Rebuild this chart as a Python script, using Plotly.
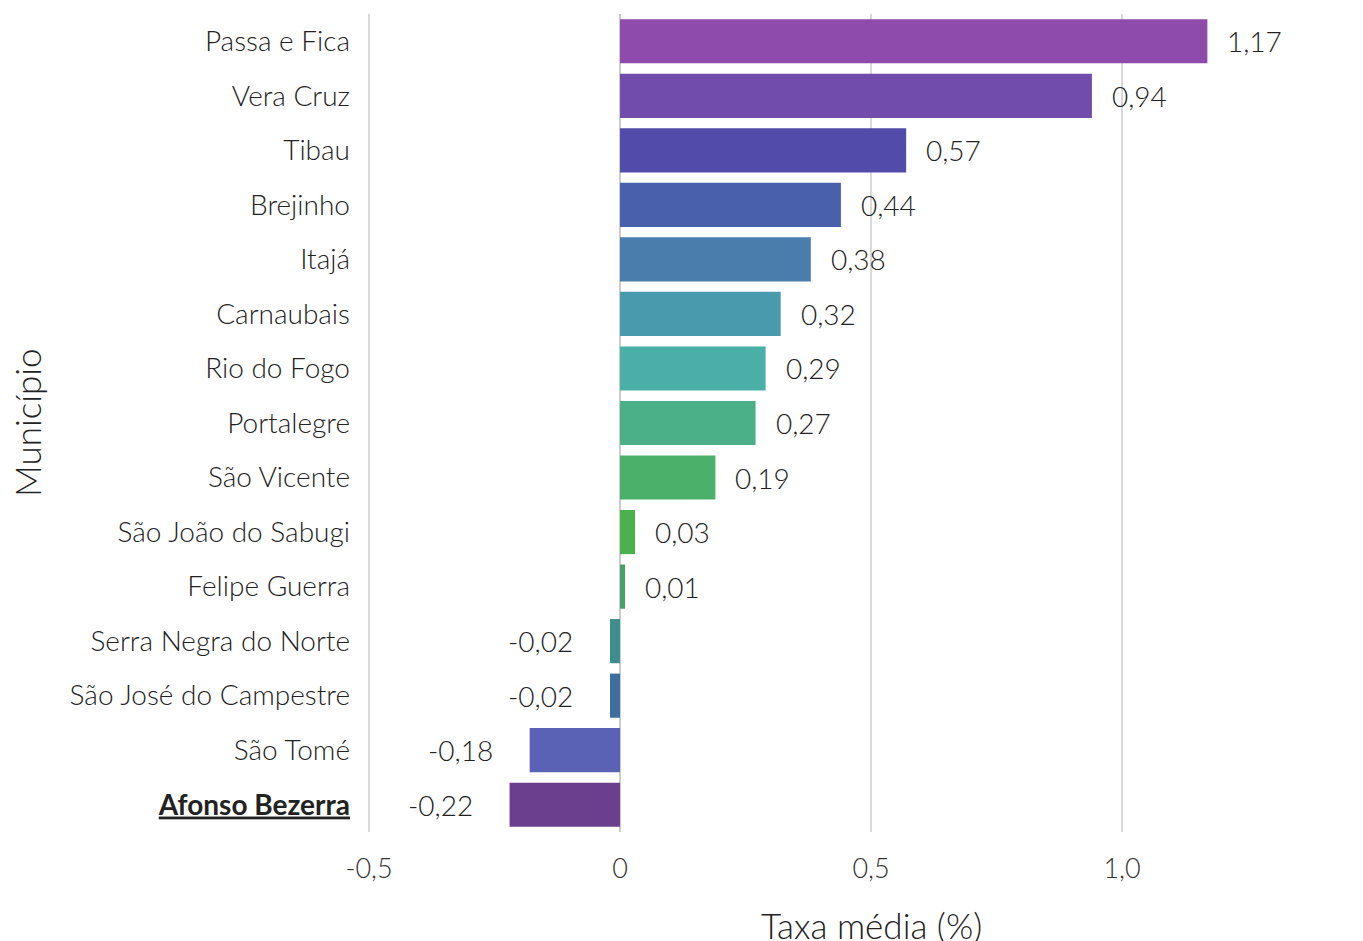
import plotly.graph_objects as go

municipios = ["Passa e Fica", "Vera Cruz", "Tibau", "Brejinho", "Itajá", "Carnaubais",
              "Rio do Fogo", "Portalegre", "São Vicente", "São João do Sabugi",
              "Felipe Guerra", "Serra Negra do Norte", "São José do Campestre",
              "São Tomé", "Afonso Bezerra"]
taxa = [1.17, 0.94, 0.57, 0.44, 0.38, 0.32, 0.29, 0.27, 0.19, 0.03, 0.01, -0.02, -0.02, -0.18, -0.22]
cores = ["#8E4BAB", "#724CAC", "#524BAA", "#4960AC", "#4A7DAB", "#4A9AAD", "#4AAFA6",
         "#4BAF88", "#4BB06A", "#4CB04D", "#4A9E67", "#3E8E8E", "#3E6E9E", "#5A62B6", "#6C3E8E"]
destaque = "Afonso Bezerra"
x_ticks = [-0.5, 0, 0.5, 1.0]
x_ticklabels = ["-0,5", "0", "0,5", "1,0"]
x_title = "Taxa média (%)"
y_title = "Município"

def fmt(v):
    return f"{v:.2f}".replace(".", ",")

ticktext = [f"<b><u>{m}</u></b>" if m == destaque else m for m in municipios]

fig = go.Figure(go.Bar(
    x=taxa, y=municipios, orientation="h",
    marker=dict(color=cores, line=dict(width=0)),
    hoverinfo="skip",
))

for m, v in zip(municipios, taxa):
    fig.add_annotation(
        x=v, y=m, text=fmt(v), showarrow=False,
        xanchor="left" if v >= 0 else "right",
        xshift=18 if v >= 0 else -35,
        font=dict(family="Lato", size=28, color="#222222", weight=300),
    )

title_font = dict(family="Lato", size=35, color="#222222", weight=300)

# x-axis title
fig.add_annotation(
    x=0.5085, y=0, xref="paper", yref="paper",
    text=x_title, showarrow=False, xanchor="center", yanchor="middle",
    yshift=-93, font=title_font,
)
# y-axis title
fig.add_annotation(
    x=-0.3373, y=0.5, xref="paper", yref="paper",
    text=y_title, showarrow=False, xanchor="center", yanchor="middle",
    textangle=-90, font=title_font,
)

fig.update_layout(
    width=1363, height=941,
    margin=dict(l=356, r=8, t=6, b=117),
    plot_bgcolor="white", paper_bgcolor="white",
    bargap=0.19,
    showlegend=False,
    font=dict(family="Lato", size=28, color="#222222", weight=300),
)
fig.update_xaxes(
    range=[-0.51, 1.48],
    tickvals=x_ticks, ticktext=x_ticklabels,
    showgrid=True, gridcolor="#d9d9d9", gridwidth=2,
    zeroline=True, zerolinecolor="#cccccc", zerolinewidth=2,
    showline=False, ticks="",
    ticklabelstandoff=18,
    tickfont=dict(family="Lato", size=27, color="#333333", weight=300),
)
fig.update_yaxes(
    categoryorder="array", categoryarray=municipios[::-1],
    tickvals=municipios, ticktext=ticktext,
    showgrid=False, zeroline=False, showline=False, ticks="",
    ticklabelstandoff=13,
    tickfont=dict(family="Lato", size=28, color="#222222", weight=300),
)

fig.write_html("out.html")
